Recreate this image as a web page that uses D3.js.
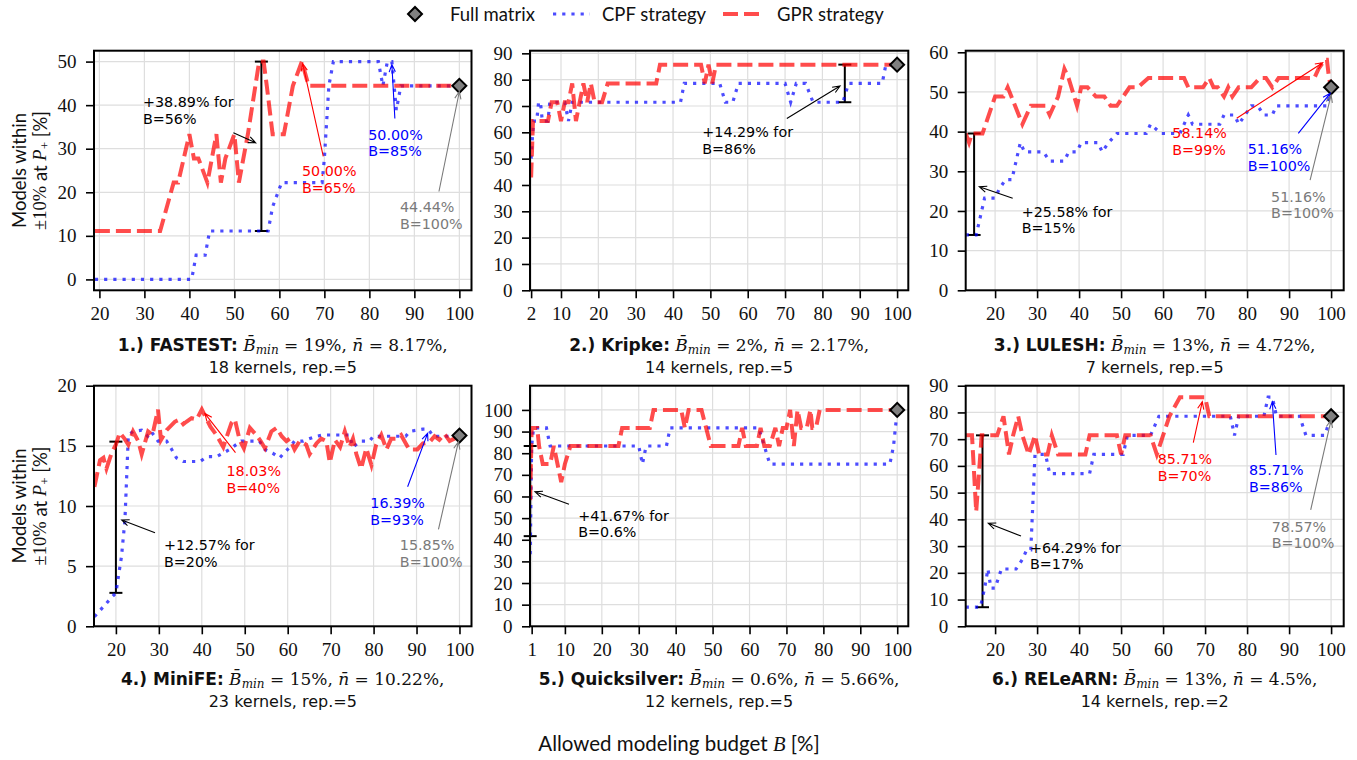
<!DOCTYPE html>
<html>
<head>
<meta charset="utf-8">
<script src="https://cdn.jsdelivr.net/npm/d3@7"></script>
<style>
  body { margin: 0; background: #fff; }
</style>
</head>
<body>
<svg id="chart" width="1357" height="760"></svg>
<script>
// ---- data ----
var benchmarks = ["FASTEST", "Kripke", "LULESH", "MiniFE", "Quicksilver", "RELeARN"];
var bMin = ["19%", "2%", "13%", "15%", "0.6%", "13%"];
var nBar = ["8.17%", "2.17%", "4.72%", "10.22%", "5.66%", "4.5%"];
var kernels = [18, 14, 7, 23, 12, 14];
var reps = [5, 5, 5, 5, 5, 2];

var fullMatrix = [44.44, 85.71, 51.16, 15.85, 100, 78.57];
var fullShown = [true, false, true, true, false, true];

var gainBudget = [56, 86, 15, 20, 0.6, 17];
var gainLow = [11.11, 71.43, 13.95, 2.78, 41.67, 7.14];
var gainHigh = [50, 85.71, 39.53, 15.35, 83.33, 71.43];
var gainText = ["+38.89%", "+14.29%", "+25.58%", "+12.57%", "+41.67%", "+64.29%"];

var gprBestB = [65, null, 99, 40, null, 70];
var gprBestV = [50, null, 58.14, 18.03, null, 85.71];
var cpfBestB = [85, null, 100, 93, null, 86];
var cpfBestV = [50, null, 51.16, 16.39, null, 85.71];

var fastest_gpr_b = [19, 33.5, 36.5, 37.5, 40, 41, 42, 44, 46, 47, 48, 50, 51, 53, 55.5, 56.5, 57.2, 58.5, 61, 63, 65, 66.5, 100];
var fastest_gpr_v = [11.11, 11.11, 22.22, 22.22, 33.33, 27.78, 27.78, 22.22, 33.33, 22.22, 27.78, 33.33, 22.22, 33.33, 50, 50, 44.44, 33.33, 33.33, 44.44, 50, 44.44, 44.44];
var fastest_cpf_b = [19, 40.5, 41.5, 43.5, 44.5, 57.5, 58.5, 60.5, 69.5, 70, 71, 72, 82, 83, 84, 85, 86, 87, 100];
var fastest_cpf_v = [0, 0, 5.56, 5.56, 11.11, 11.11, 16.67, 22.22, 22.22, 27.78, 44.44, 50, 50, 44.44, 50, 50, 38.89, 44.44, 44.44];

var kripke_gpr_b = [2, 2.5, 6.5, 7.5, 9, 10, 11, 12, 13, 14, 15, 16, 17, 18, 19, 21, 22.5, 35.5, 36.5, 47.5, 48.5, 49.5, 50.5, 51.5, 100];
var kripke_gpr_v = [42.86, 64.29, 64.29, 71.43, 71.43, 64.29, 71.43, 71.43, 78.57, 64.29, 71.43, 78.57, 71.43, 78.57, 71.43, 71.43, 78.57, 78.57, 85.71, 85.71, 78.57, 85.71, 78.57, 85.71, 85.71];
var kripke_cpf_b = [2, 2.3, 2.7, 3.5, 4, 4.5, 5, 6.5, 7, 11, 12, 13, 42, 43, 52.5, 54, 56, 57.5, 70, 71.5, 73, 75.5, 77.5, 85.5, 87, 96, 97, 100];
var kripke_cpf_v = [50, 57.14, 64.29, 64.29, 71.43, 71.43, 64.29, 64.29, 71.43, 71.43, 64.29, 71.43, 71.43, 78.57, 78.57, 71.43, 71.43, 78.57, 78.57, 71.43, 78.57, 78.57, 71.43, 71.43, 78.57, 78.57, 85.71, 85.71];

var lulesh_gpr_b = [13, 13.8, 14.5, 17, 20, 22, 23, 26.5, 28.5, 32, 33, 35, 36.5, 37.5, 39.5, 40.5, 42, 44, 46, 47.5, 49, 50.5, 52, 54, 56.5, 65, 66, 69.5, 71, 72, 73, 74.5, 75.5, 76.5, 78, 81, 83, 84.5, 86, 87.5, 96, 97, 98.5, 99, 99.5, 100];
var lulesh_gpr_v = [39.53, 37.21, 39.53, 39.53, 48.84, 48.84, 51.16, 41.86, 46.51, 46.51, 44.19, 48.84, 55.81, 53.49, 46.51, 51.16, 51.16, 48.84, 48.84, 46.51, 46.51, 48.84, 51.16, 51.16, 53.49, 53.49, 51.16, 51.16, 53.49, 51.16, 51.16, 48.84, 51.16, 48.84, 51.16, 51.16, 53.49, 53.49, 51.16, 53.49, 53.49, 55.81, 58.14, 58.14, 53.49, 51.16];
var lulesh_cpf_b = [13, 15.5, 16.5, 17.5, 20, 21, 22.5, 24, 25, 26, 27, 28.5, 31.5, 33, 36.5, 37.5, 39.5, 40.5, 44.5, 45.5, 47, 49, 56, 57, 59.5, 64, 66, 67, 68.5, 73.5, 74.5, 77, 78, 79.5, 81, 82.5, 84, 86, 87, 99, 100];
var lulesh_cpf_v = [13.95, 13.95, 18.6, 23.26, 23.26, 25.58, 27.91, 27.91, 32.56, 37.21, 34.88, 34.88, 34.88, 32.56, 32.56, 34.88, 34.88, 37.21, 37.21, 34.88, 37.21, 39.53, 39.53, 41.86, 39.53, 39.53, 44.19, 41.86, 41.86, 41.86, 44.19, 44.19, 41.86, 44.19, 46.51, 46.51, 44.19, 44.19, 46.51, 46.51, 51.16];

var minife_gpr_b = [15, 16.3, 17.1, 17.8, 19, 20, 20.9, 22, 22.9, 24, 25.2, 26, 27.5, 28.5, 29.8, 30.5, 31.8, 33.7, 34.9, 35.7, 36.4, 37.6, 38.8, 40, 42, 43.4, 45, 46.9, 47.7, 48.8, 49.8, 51.2, 52.7, 53.7, 54.7, 56.2, 57.4, 58.6, 59.7, 60.5, 61.6, 62.8, 64.3, 65.1, 66.7, 67.8, 69, 69.8, 71, 72.2, 73.3, 74.4, 75.2, 76, 77.1, 78.3, 79.5, 80.6, 81.8, 83, 84.1, 85.2, 86.4, 87.5, 88.3, 90.2, 91.5, 93, 94.2, 95.3, 96.5, 97.7, 98.8, 100];
var minife_gpr_v = [11.6, 13.8, 14, 13.1, 14.4, 15.1, 16.1, 15.6, 15.1, 16.2, 15.4, 14.3, 16.2, 15.9, 18, 15.5, 16.3, 17, 17.2, 16.8, 17, 17.3, 17.2, 18.03, 16.6, 15.9, 14.9, 16.9, 17.2, 15.5, 14.8, 16.5, 15.9, 15.4, 14.8, 16.2, 16.5, 15.8, 15.4, 15.6, 14.7, 15.4, 15.1, 14.3, 15.2, 15.6, 15.4, 13.6, 15.5, 14.9, 16.2, 14.9, 15.6, 14.3, 13.1, 14.8, 13.4, 15.1, 15.9, 14.7, 15.6, 15.6, 15.9, 15.2, 14.7, 14.7, 15.2, 15.3, 15.8, 15.5, 16, 15.4, 15.6, 15.85];
var minife_cpf_b = [15, 17, 19, 20, 21.3, 22.1, 22.9, 24, 26, 27.4, 28.2, 29.8, 31.8, 33, 34.1, 35.7, 39.6, 41.2, 43.4, 46.5, 48, 49.2, 53.4, 54.7, 56.5, 58.1, 60.5, 61.6, 63.6, 66.7, 68.2, 74.4, 75.2, 77, 79.1, 79.9, 87.5, 88.4, 91.5, 92.7, 93.9, 98.5, 100];
var minife_cpf_v = [0.8, 1.6, 2.4, 2.78, 5.8, 8.8, 15.9, 16.2, 16.3, 15.8, 16.2, 15.4, 15.4, 14.7, 14, 13.7, 13.7, 14.1, 14.1, 14.7, 15.1, 15.4, 15.4, 14.7, 14.4, 14, 14.9, 15.4, 15.4, 15.8, 15.9, 15.9, 14.9, 15.4, 15.4, 15.8, 15.8, 16.2, 16.39, 16.39, 15.8, 15.8, 15.85];

var qs_gpr_b = [0.6, 1, 2.5, 3, 4, 6, 7, 8, 9, 10, 11.5, 24.5, 25.5, 33, 34, 41.5, 42.5, 43.5, 47, 49.5, 57, 58, 59, 62, 63, 64, 65.5, 67, 68, 69, 70, 71, 72, 73, 74, 75.5, 76.5, 77, 78, 79, 100];
var qs_gpr_v = [58.33, 91.67, 91.67, 83.33, 75, 75, 83.33, 75, 66.67, 75, 83.33, 83.33, 91.67, 91.67, 100, 100, 91.67, 100, 100, 83.33, 83.33, 91.67, 83.33, 83.33, 91.67, 83.33, 83.33, 91.67, 83.33, 91.67, 91.67, 100, 83.33, 100, 91.67, 91.67, 100, 91.67, 91.67, 100, 100];
var qs_cpf_b = [0.6, 0.8, 1, 1.5, 4, 5, 6, 30, 31, 32, 37.5, 38.5, 62.5, 64, 65.5, 98, 99, 100];
var qs_cpf_v = [33.33, 58.33, 83.33, 91.67, 91.67, 91.67, 83.33, 83.33, 75, 83.33, 83.33, 91.67, 91.67, 83.33, 75, 75, 83.33, 100];

var relearn_gpr_b = [13, 14.5, 15.5, 16.8, 20.5, 22, 23.3, 24.3, 25.5, 26.5, 28, 29.5, 30.5, 32.5, 33.5, 35, 41.5, 42.5, 49, 50, 51, 57, 58.5, 60, 61.5, 64, 70, 71, 100];
var relearn_gpr_v = [71.43, 71.43, 42.86, 71.43, 71.43, 78.57, 64.29, 71.43, 78.57, 71.43, 64.29, 71.43, 64.29, 64.29, 71.43, 64.29, 64.29, 71.43, 71.43, 64.29, 71.43, 71.43, 64.29, 71.43, 78.57, 85.71, 85.71, 78.57, 78.57];
var relearn_cpf_b = [13, 16.5, 17.5, 18.3, 19, 20, 21.5, 25, 26.5, 27.5, 28.5, 29.5, 32, 33, 42.5, 43.5, 50.5, 51.5, 57, 59, 76, 77, 78, 84, 85, 86, 87, 92.5, 94, 98.5, 100];
var relearn_cpf_v = [7.14, 7.14, 14.29, 21.43, 14.29, 14.29, 21.43, 21.43, 25, 28.57, 28.57, 64.29, 64.29, 57.14, 57.14, 64.29, 64.29, 71.43, 71.43, 78.57, 78.57, 71.43, 78.57, 78.57, 85.71, 85.71, 78.57, 78.57, 71.43, 71.43, 78.57];

var gprB = [fastest_gpr_b, kripke_gpr_b, lulesh_gpr_b, minife_gpr_b, qs_gpr_b, relearn_gpr_b];
var gprV = [fastest_gpr_v, kripke_gpr_v, lulesh_gpr_v, minife_gpr_v, qs_gpr_v, relearn_gpr_v];
var cpfB = [fastest_cpf_b, kripke_cpf_b, lulesh_cpf_b, minife_cpf_b, qs_cpf_b, relearn_cpf_b];
var cpfV = [fastest_cpf_v, kripke_cpf_v, lulesh_cpf_v, minife_cpf_v, qs_cpf_v, relearn_cpf_v];

var dec10 = d3.range(10, 101, 10);
var xTicks = [d3.range(20, 101, 10), [2].concat(dec10), d3.range(20, 101, 10), d3.range(20, 101, 10), [1].concat(dec10), d3.range(20, 101, 10)];
var yTicks = [d3.range(0, 51, 10), d3.range(0, 91, 10), d3.range(0, 61, 10), d3.range(0, 21, 5), d3.range(0, 101, 10), d3.range(0, 91, 10)];

// ---- layout ----
var colBox = [[94, 471.5], [530, 908.3], [965.7, 1343.7]];
var rowBox = [[50.7, 290.3], [385.7, 626.3]];
var xDomains = [[18.8, 102.7], [1.7, 103], [13, 103], [14.9, 102.8], [0.55, 103], [13, 103]];
var yDomains = [[-2.5, 52.5], [0, 91], [0, 60.4], [0, 20], [0, 111.2], [0, 90]];

// annotation placement (pixel offsets from the annotated point)
var gainOff = [
  {tip: [-5.7, -3.5], from: [-28, -13.5], at: [-118.4, -39.5]},
  {tip: [-4.8, 2.6], from: [-58, 35], at: [-142.5, 53.9]},
  {tip: [5.2, 2.5], from: [38.6, 14.1], at: [47.6, 32.5]},
  {tip: [5.8, 2.8], from: [39.1, 15.5], at: [48.1, 32.8]},
  {tip: [4.8, 0.6], from: [38.8, 13.2], at: [48.1, 29.6]},
  {tip: [5.8, 2], from: [38.5, 14.7], at: [47.5, 31.4]}
];
var gprOff = [
  {tip: [0.8, 2], from: [21.4, 94.8], at: [0.1, 114.8]}, null,
  {tip: [-4.2, 3], from: [-90.2, 58.6], at: [-154.6, 78.6]},
  {tip: [3, 4], from: [33.7, 43.3], at: [24.7, 66.6]}, null,
  {tip: [-2.8, 4.5], from: [-11.8, 45.5], at: [-47.4, 67.1]}
];
var cpfOff = [
  {tip: [0, 3], from: [3, 57], at: [-23.6, 78.1]}, null,
  {tip: [-1, 6], from: [-32.8, 46], at: [-83.4, 67]},
  {tip: [-1.8, 4.2], from: [-21.8, 57.6], at: [-59.1, 79.2]}, null,
  {tip: [0, 4.5], from: [3.7, 57.8], at: [-23.3, 78.1]}
];
var fullOff = [
  {tip: [0, 5.7], from: [-20.4, 105.7], at: [-59.4, 126.3]}, null,
  {tip: [0, 7.7], from: [-21, 92.7], at: [-60, 114.4]},
  {tip: [-1, 6.1], from: [-21, 93.7], at: [-59.6, 114.4]}, null,
  {tip: [0, 3.7], from: [-20.4, 93.7], at: [-59.4, 115.4]}
];

var sans = "Lato, 'Open Sans', sans-serif";
var wideSans = "'DejaVu Sans', sans-serif";
var serif = "'Liberation Serif', serif";
var mathSerif = "'DejaVu Serif', serif";
var red = "rgb(255,0,0)", blue = "rgb(0,0,255)";

var svg = d3.select("#chart");

function drawDiamond(g, cx, cy) {
  g.append("path")
    .attr("d", d3.symbol().type(d3.symbolSquare).size(98)())
    .attr("transform", "translate(" + cx + "," + cy + ") rotate(45)")
    .attr("fill", "#808080")
    .attr("stroke", "black")
    .attr("stroke-width", 2);
}

function arrow(g, x1, y1, x2, y2, color) {
  var a = Math.atan2(y2 - y1, x2 - x1), h = 8, s = 0.4;
  var p = d3.path();
  p.moveTo(x1, y1); p.lineTo(x2, y2);
  p.moveTo(x2 - h * Math.cos(a - s), y2 - h * Math.sin(a - s));
  p.lineTo(x2, y2);
  p.lineTo(x2 - h * Math.cos(a + s), y2 - h * Math.sin(a + s));
  g.append("path").attr("d", p.toString())
    .attr("fill", "none").attr("stroke", color).attr("stroke-width", 1.1);
}

// two-line note: each line is its own text element
function note(g, px, py, off, color, lines) {
  lines.forEach(function(l, k) {
    g.append("text")
      .attr("x", px + off.at[0]).attr("y", py + off.at[1] + k * 16.7)
      .attr("fill", color)
      .style("font-family", wideSans).style("font-size", "14.3px")
      .text(l);
  });
  arrow(g, px + off.from[0], py + off.from[1], px + off.tip[0], py + off.tip[1], color);
}

d3.range(6).forEach(function(i) {
  var col = i % 3, row = Math.floor(i / 3);
  var x = d3.scaleLinear().domain(xDomains[i]).range(colBox[col]);
  var y = d3.scaleLinear().domain(yDomains[i]).range([rowBox[row][1], rowBox[row][0]]);
  var g = svg.append("g");
  var x0 = colBox[col][0], x1 = colBox[col][1], y0 = rowBox[row][0], y1 = rowBox[row][1];

  // grid
  g.selectAll(".gx").data(xTicks[i]).enter().append("line")
    .attr("x1", function(d) { return x(d); }).attr("x2", function(d) { return x(d); })
    .attr("y1", y0).attr("y2", y1)
    .attr("stroke", "#dedede").attr("stroke-width", 1.2);
  g.selectAll(".gy").data(yTicks[i]).enter().append("line")
    .attr("y1", function(d) { return y(d); }).attr("y2", function(d) { return y(d); })
    .attr("x1", x0).attr("x2", x1)
    .attr("stroke", "#dedede").attr("stroke-width", 1.2);

  var clipId = "clip" + i;
  svg.append("clipPath").attr("id", clipId).append("rect")
    .attr("x", x0).attr("y", y0 - 4).attr("width", x1 - x0).attr("height", y1 - y0 + 4);

  // improvement bar
  var bx = x(gainBudget[i]), by0 = y(gainLow[i]), by1 = y(gainHigh[i]);
  var eb = g.append("g").attr("stroke", "black").attr("stroke-width", 2);
  eb.append("line").attr("x1", bx).attr("x2", bx).attr("y1", by0).attr("y2", by1);
  eb.append("line").attr("x1", bx - 6.5).attr("x2", bx + 6.5).attr("y1", by0).attr("y2", by0);
  eb.append("line").attr("x1", bx - 6.5).attr("x2", bx + 6.5).attr("y1", by1).attr("y2", by1);

  var line = d3.line().x(function(d) { return x(d[0]); }).y(function(d) { return y(d[1]); });
  var lines = g.append("g").attr("clip-path", "url(#" + clipId + ")");
  lines.append("path").datum(d3.zip(cpfB[i], cpfV[i]))
    .attr("d", line).attr("fill", "none")
    .attr("stroke", blue).attr("stroke-opacity", 0.7)
    .attr("stroke-width", 3.2).attr("stroke-dasharray", "3.2,6");
  lines.append("path").datum(d3.zip(gprB[i], gprV[i]))
    .attr("d", line).attr("fill", "none")
    .attr("stroke", red).attr("stroke-opacity", 0.7)
    .attr("stroke-width", 4).attr("stroke-dasharray", "15,6");

  drawDiamond(g, x(100), y(fullMatrix[i]));

  // axes
  var ax = g.append("g").attr("transform", "translate(0," + y1 + ")")
    .call(d3.axisBottom(x).tickValues(xTicks[i]).tickSize(8).tickPadding(8).tickFormat(d3.format("d")));
  var ay = g.append("g").attr("transform", "translate(" + x0 + ",0)")
    .call(d3.axisLeft(y).tickValues(yTicks[i]).tickSize(8).tickPadding(9.5).tickFormat(d3.format("d")));
  [ax, ay].forEach(function(a) {
    a.select(".domain").remove();
    a.selectAll("line").attr("stroke-width", 1.6);
    a.selectAll("text").style("font-family", serif).style("font-size", "19px").attr("fill", "#111");
  });
  g.append("rect").attr("x", x0).attr("y", y0).attr("width", x1 - x0).attr("height", y1 - y0)
    .attr("fill", "none").attr("stroke", "black").attr("stroke-width", 2);

  // annotations
  note(g, bx, (by0 + by1) / 2, gainOff[i], "black", [gainText[i] + " for", "B=" + gainBudget[i] + "%"]);
  if (gprBestB[i] !== null)
    note(g, x(gprBestB[i]), y(gprBestV[i]), gprOff[i], red, [gprBestV[i].toFixed(2) + "%", "B=" + gprBestB[i] + "%"]);
  if (cpfBestB[i] !== null)
    note(g, x(cpfBestB[i]), y(cpfBestV[i]), cpfOff[i], blue, [cpfBestV[i].toFixed(2) + "%", "B=" + cpfBestB[i] + "%"]);
  if (fullShown[i])
    note(g, x(100), y(fullMatrix[i]), fullOff[i], "#7a7a7a", [fullMatrix[i].toFixed(2) + "%", "B=100%"]);

  // panel caption
  var cx = (x0 + x1) / 2, base = row === 0 ? 351 : 685;
  var t = g.append("text").attr("x", cx).attr("y", base).attr("text-anchor", "middle")
    .style("font-size", "17px").attr("fill", "#111");
  t.append("tspan").style("font-family", wideSans).style("font-weight", "bold").text((i + 1) + ".) " + benchmarks[i] + ":");
  t.append("tspan").style("font-family", mathSerif).style("font-style", "italic").text(" B\u0304");
  t.append("tspan").style("font-family", mathSerif).style("font-style", "italic").style("font-size", "12px").attr("dy", 3).text("min");
  t.append("tspan").style("font-family", mathSerif).attr("dy", -3).text(" = " + bMin[i] + ", ");
  t.append("tspan").style("font-family", mathSerif).style("font-style", "italic").text("n\u0304");
  t.append("tspan").style("font-family", mathSerif).text(" = " + nBar[i] + ",");
  g.append("text").attr("x", cx).attr("y", base + 21.5).attr("text-anchor", "middle")
    .style("font-family", wideSans).style("font-size", "16px").attr("fill", "#111")
    .text(kernels[i] + " kernels, rep.=" + reps[i]);
});

// y labels
[0, 1].forEach(function(r) {
  var cy = (rowBox[r][0] + rowBox[r][1]) / 2;
  svg.append("text").attr("transform", "translate(19," + cy + ") rotate(-90)")
    .attr("text-anchor", "middle").attr("dominant-baseline", "central")
    .style("font-family", sans).style("font-size", "18.5px").attr("fill", "#111")
    .text("Models within");
  var t = svg.append("text").attr("transform", "translate(40," + cy + ") rotate(-90)")
    .attr("text-anchor", "middle").attr("dominant-baseline", "central")
    .style("font-size", "18.5px").attr("fill", "#111");
  t.append("tspan").style("font-family", serif).text("\u00b110%");
  t.append("tspan").style("font-family", sans).text(" at ");
  t.append("tspan").style("font-family", serif).style("font-style", "italic").text("P");
  t.append("tspan").style("font-family", serif).style("font-size", "13px").attr("dy", 4).text("+");
  t.append("tspan").style("font-family", sans).attr("dy", -4).text(" [%]");
});

// x label
var xl = svg.append("text").attr("x", 679).attr("y", 751).attr("text-anchor", "middle")
  .style("font-size", "20.5px").attr("fill", "#111");
xl.append("tspan").style("font-family", sans).text("Allowed modeling budget ");
xl.append("tspan").style("font-family", serif).style("font-style", "italic").text("B");
xl.append("tspan").style("font-family", sans).text(" [%]");

// legend
var leg = svg.append("g");
drawDiamond(leg, 415, 14);
leg.append("text").attr("x", 450).attr("y", 20.5).style("font-family", sans).style("font-size", "18.5px").attr("fill", "#111").text("Full matrix");
leg.append("line").attr("x1", 553).attr("x2", 590).attr("y1", 14).attr("y2", 14)
  .attr("stroke", blue).attr("stroke-opacity", 0.7).attr("stroke-width", 3.2).attr("stroke-dasharray", "3.2,6");
leg.append("text").attr("x", 602).attr("y", 20.5).style("font-family", sans).style("font-size", "18.5px").attr("fill", "#111").text("CPF strategy");
leg.append("line").attr("x1", 723).attr("x2", 762).attr("y1", 14).attr("y2", 14)
  .attr("stroke", red).attr("stroke-opacity", 0.7).attr("stroke-width", 4).attr("stroke-dasharray", "15,6");
leg.append("text").attr("x", 777).attr("y", 20.5).style("font-family", sans).style("font-size", "18.5px").attr("fill", "#111").text("GPR strategy");
</script>
</body>
</html>
